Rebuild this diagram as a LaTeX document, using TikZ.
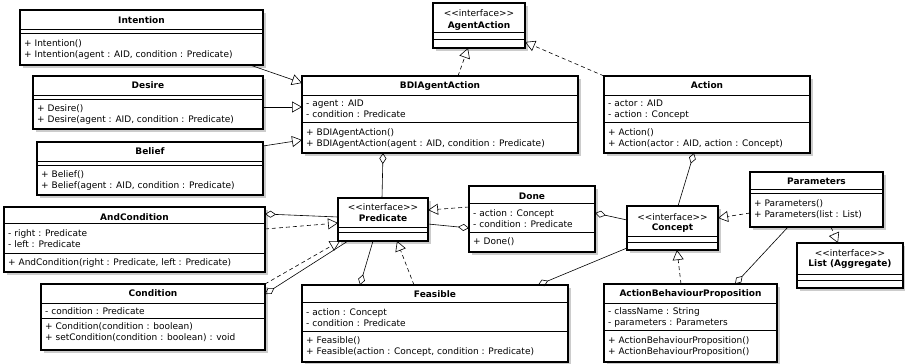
\documentclass[tikz,border=0pt]{standalone}
\usepackage{fontspec}
\setmainfont{DejaVu Sans}[Ligatures=TeXOff]
\usepackage{tikz}
\usetikzlibrary{arrows.meta,calc,shadows}

\tikzset{
  classbox/.style={draw, line width=1.5pt, fill=white, anchor=north west,
    inner sep=0pt, outer sep=0pt,
    drop shadow={shadow xshift=3pt, shadow yshift=-3pt, fill=black!20, opacity=1}},
  clsname/.style={font=\fontsize{9}{11}\selectfont\bfseries, inner sep=0pt, anchor=base},
  stereo/.style={font=\fontsize{9}{11}\selectfont, inner sep=0pt, anchor=base},
  members/.style={font=\fontsize{9}{11}\selectfont, align=left, inner sep=0pt, anchor=north west},
  compsep/.style={line width=0.8pt},
  generalize/.style={arrows={-Triangle[open,length=10pt,width=11pt]}, line width=0.6pt},
  realize/.style={generalize, dash pattern=on 4pt off 3pt},
  aggregate/.style={arrows={Diamond[open,length=11pt,width=7pt]-}, line width=0.6pt},
}

% compartment line of a class box, #2 below its top
\newcommand{\compline}[2]{%
  \draw[compsep] ($(#1.north west)+(0,#2)$) -- ($(#1.north east)+(0,#2)$);}

\begin{document}
\begin{tikzpicture}[x=1pt,y=-1pt]

\useasboundingbox (0,0) rectangle (905,364);

% BDI classes on the left
\node[classbox, minimum width=243, minimum height=55] (intention) at (20,10) {};
\node[clsname] (intention-n) at ($(intention.north)+(0,13.5)$) {Intention};
\compline{intention}{19} \compline{intention}{23}
\node[members] (intention-o) at ($(intention.north west)+(4,29.5)$)
  {+ Intention()\\+ Intention(agent : AID, condition : Predicate)};

\node[classbox, minimum width=230, minimum height=53] (desire) at (33,76) {};
\node[clsname] (desire-n) at ($(desire.north)+(0,12.5)$) {Desire};
\compline{desire}{19} \compline{desire}{23}
\node[members] (desire-o) at ($(desire.north west)+(4,28.5)$)
  {+ Desire()\\+ Desire(agent : AID, condition : Predicate)};

\node[classbox, minimum width=226, minimum height=53] (belief) at (37,142) {};
\node[clsname] (belief-n) at ($(belief.north)+(0,12.5)$) {Belief};
\compline{belief}{19} \compline{belief}{23}
\node[members] (belief-o) at ($(belief.north west)+(4,28.5)$)
  {+ Belief()\\+ Belief(agent : AID, condition : Predicate)};

% conditions
\node[classbox, minimum width=261, minimum height=65] (andcond) at (4,207) {};
\node[clsname] (andcond-n) at ($(andcond.north)+(0,13.5)$) {AndCondition};
\compline{andcond}{16} \compline{andcond}{46}
\node[members] (andcond-a) at ($(andcond.north west)+(4,22.5)$)
  {- right : Predicate\\- left : Predicate};
\node[members] (andcond-o) at ($(andcond.north west)+(4,51.5)$)
  {+ AndCondition(right : Predicate, left : Predicate)};

\node[classbox, minimum width=224, minimum height=66] (condition) at (41,284) {};
\node[clsname] (condition-n) at ($(condition.north)+(0,12.5)$) {Condition};
\compline{condition}{19} \compline{condition}{34}
\node[members] (condition-a) at ($(condition.north west)+(4,23.5)$)
  {- condition : Predicate};
\node[members] (condition-o) at ($(condition.north west)+(4,38.5)$)
  {+ Condition(condition : boolean)\\+ setCondition(condition : boolean) : void};

% actions
\node[classbox, minimum width=276, minimum height=77] (bdi) at (302,76) {};
\node[clsname] (bdi-n) at ($(bdi.north)+(0,12.5)$) {BDIAgentAction};
\compline{bdi}{19} \compline{bdi}{46.5}
\node[members] (bdi-a) at ($(bdi.north west)+(4,23.5)$)
  {- agent : AID\\- condition : Predicate};
\node[members] (bdi-o) at ($(bdi.north west)+(4,52.5)$)
  {+ BDIAgentAction()\\+ BDIAgentAction(agent : AID, condition : Predicate)};

\node[classbox, minimum width=92, minimum height=45] (agentaction) at (433,3) {};
\node[stereo] (agentaction-s) at ($(agentaction.north)+(0,13.5)$) {<<interface>>};
\node[clsname] (agentaction-n) at ($(agentaction.north)+(0,25.5)$) {AgentAction};
\compline{agentaction}{29} \compline{agentaction}{36}

\node[classbox, minimum width=206, minimum height=77] (action) at (604,76) {};
\node[clsname] (action-n) at ($(action.north)+(0,12.5)$) {Action};
\compline{action}{19} \compline{action}{46.5}
\node[members] (action-a) at ($(action.north west)+(4,23.5)$)
  {- actor : AID\\- action : Concept};
\node[members] (action-o) at ($(action.north west)+(4,52.5)$)
  {+ Action()\\+ Action(actor : AID, action : Concept)};

% interfaces in the middle
\node[classbox, minimum width=90, minimum height=43] (predicate) at (338,198) {};
\node[stereo] (predicate-s) at ($(predicate.north)+(0,12.5)$) {<<interface>>};
\node[clsname] (predicate-n) at ($(predicate.north)+(0,23.5)$) {Predicate};
\compline{predicate}{29} \compline{predicate}{34}

\node[classbox, minimum width=91, minimum height=44] (concept) at (627,206) {};
\node[stereo] (concept-s) at ($(concept.north)+(0,14.5)$) {<<interface>>};
\node[clsname] (concept-n) at ($(concept.north)+(0,24.5)$) {Concept};
\compline{concept}{30} \compline{concept}{36}

\node[classbox, minimum width=106, minimum height=45] (list) at (797,243) {};
\node[stereo] (list-s) at ($(list.north)+(0,13.5)$) {<<interface>>};
\node[clsname] (list-n) at ($(list.north)+(0,23.5)$) {List (Aggregate)};
\compline{list}{31} \compline{list}{37}

% propositions
\node[classbox, minimum width=126, minimum height=66] (done) at (469,186) {};
\node[clsname] (done-n) at ($(done.north)+(0,13.5)$) {Done};
\compline{done}{17} \compline{done}{46}
\node[members] (done-a) at ($(done.north west)+(4,23.5)$)
  {- action : Concept\\- condition : Predicate};
\node[members] (done-o) at ($(done.north west)+(4,51.5)$) {+ Done()};

\node[classbox, minimum width=266, minimum height=77] (feasible) at (302,285) {};
\node[clsname] (feasible-n) at ($(feasible.north)+(0,12.5)$) {Feasible};
\compline{feasible}{17} \compline{feasible}{46}
\node[members] (feasible-a) at ($(feasible.north west)+(4,23.5)$)
  {- action : Concept\\- condition : Predicate};
\node[members] (feasible-o) at ($(feasible.north west)+(4,51.5)$)
  {+ Feasible()\\+ Feasible(action : Concept, condition : Predicate)};

\node[classbox, minimum width=133, minimum height=55] (parameters) at (750,172) {};
\node[clsname] (parameters-n) at ($(parameters.north)+(0,12.5)$) {Parameters};
\compline{parameters}{17} \compline{parameters}{21}
\node[members] (parameters-o) at ($(parameters.north west)+(4,27.5)$)
  {+ Parameters()\\+ Parameters(list : List)};

\node[classbox, minimum width=173, minimum height=78] (abp) at (604,284) {};
\node[clsname] (abp-n) at ($(abp.north)+(0,12.5)$) {ActionBehaviourProposition};
\compline{abp}{19} \compline{abp}{46}
\node[members] (abp-a) at ($(abp.north west)+(4,23.5)$)
  {- className : String\\- parameters : Parameters};
\node[members] (abp-o) at ($(abp.north west)+(4,52.5)$)
  {+ ActionBehaviourProposition()\\+ ActionBehaviourProposition()};

% generalizations and realizations
\draw[generalize] ($(intention.south east)+(-13,0)$) -- ($(bdi.north west)+(0,7)$);
\draw[generalize] ($(desire.north east)+(0,31)$) -- ($(bdi.north west)+(0,31)$);
\draw[generalize] ($(belief.north east)+(0,4)$) -- ($(bdi.north west)+(0,64)$);
\draw[realize] ($(bdi.north west)+(156,0)$) -- ($(agentaction.south west)+(35,0)$);
\draw[realize] (action.north west) -- ($(agentaction.south east)+(0,-6)$);
\draw[realize] ($(andcond.north east)+(0,22)$) -- ($(predicate.north west)+(0,25)$);
\draw[realize] (condition.north east) -- ($(predicate.south west)+(2,0)$);
\draw[realize] ($(feasible.north west)+(112,0)$) -- ($(predicate.south west)+(59,0)$);
\draw[realize] ($(done.north west)+(0,21)$) -- ($(predicate.north east)+(0,12)$);
\draw[realize] ($(abp.north west)+(77,0)$) -- ($(concept.south west)+(50,0)$);
\draw[realize] ($(parameters.north west)+(0,41)$) -- ($(concept.north east)+(0,12)$);
\draw[realize] ($(parameters.south west)+(81,0)$) -- ($(list.north west)+(41,0)$);

% aggregations
\draw[aggregate] ($(bdi.south west)+(81,0)$) -- ($(predicate.north west)+(44,0)$);
\draw[aggregate] ($(andcond.north east)+(0,7)$) -- ($(predicate.north west)+(0,19)$);
\draw[aggregate] ($(condition.north east)+(0,10)$) -- ($(predicate.south west)+(10,0)$);
\draw[aggregate] ($(feasible.north west)+(58,0)$) -- ($(predicate.south west)+(35,0)$);
\draw[aggregate] ($(done.north west)+(0,42)$) -- ($(predicate.north east)+(0,26)$);
\draw[aggregate] ($(done.north east)+(0,27)$) -- ($(concept.north west)+(0,14)$);
\draw[aggregate] ($(feasible.north west)+(236,0)$) -- ($(concept.south west)+(0,-2)$);
\draw[aggregate] ($(action.south west)+(90,0)$) -- ($(concept.north west)+(51,0)$);
\draw[aggregate] ($(abp.north west)+(131,0)$) -- ($(parameters.south west)+(38,0)$);

\end{tikzpicture}
\end{document}
